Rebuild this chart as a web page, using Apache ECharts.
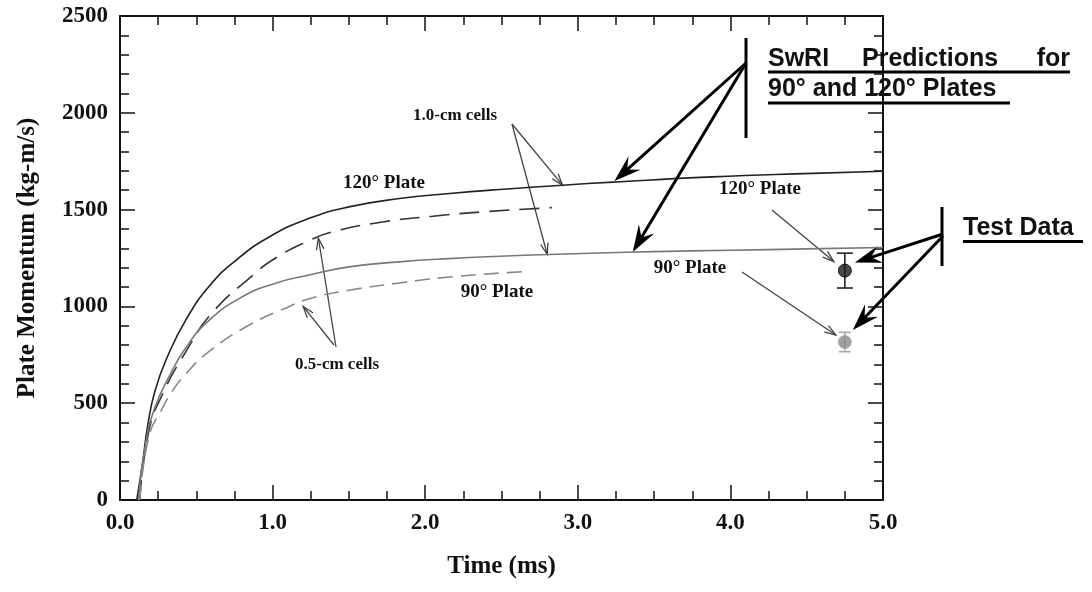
<!DOCTYPE html>
<html>
<head>
<meta charset="utf-8">
<script src="https://cdn.jsdelivr.net/npm/echarts@6/dist/echarts.min.js"></script>
<style>
  html, body { margin: 0; padding: 0; background: #fff; }
  #chart { width: 1092px; height: 592px; }
</style>
</head>
<body>
<div id="chart"></div>
<script>
// 120 deg plate, 1.0-cm cells (solid)
const time120Coarse = [0.11, 0.15, 0.18, 0.23, 0.32, 0.43, 0.58, 0.76, 0.98, 1.24, 1.5, 1.83, 2.16, 2.49, 2.9, 3.23, 3.88, 4.54, 5.0];
const mom120Coarse  = [0, 204, 376, 566, 757, 928, 1100, 1238, 1360, 1455, 1514, 1557, 1583, 1604, 1626, 1642, 1669, 1687, 1698];
// 120 deg plate, 0.5-cm cells (dashed)
const time120Fine = [0.13, 0.19, 0.28, 0.43, 0.6, 0.87, 1.02, 1.24, 1.39, 1.72, 2.05, 2.37, 2.83];
const mom120Fine  = [0, 359, 549, 764, 963, 1161, 1250, 1340, 1385, 1436, 1466, 1488, 1510];
// 90 deg plate, 1.0-cm cells (solid)
const time90Coarse = [0.12, 0.17, 0.23, 0.32, 0.43, 0.58, 0.8, 1.02, 1.24, 1.5, 1.83, 2.16, 2.49, 2.81, 3.14, 3.5, 4.0, 4.5, 5.0];
const mom90Coarse  = [0, 300, 480, 635, 785, 925, 1049, 1120, 1162, 1204, 1230, 1247, 1259, 1268, 1276, 1283, 1290, 1297, 1304];
// 90 deg plate, 0.5-cm cells (dashed)
const time90Fine = [0.13, 0.19, 0.275, 0.34, 0.43, 0.58, 0.85, 1.11, 1.24, 1.5, 1.83, 2.16, 2.65];
const mom90Fine  = [0, 330, 470, 560, 650, 765, 905, 1000, 1040, 1083, 1121, 1152, 1180];
// test data: 120 deg, 90 deg
const testTime  = [4.75, 4.75];
const testMom   = [1185, 816];
const testError = [90, 50];

const zip = (xs, ys) => xs.map((x, i) => [x, ys[i]]);

const SERIF = '"Liberation Serif", "Times New Roman", serif';
const SANS = '"Liberation Sans", Arial, sans-serif';

let chart = echarts.init(document.getElementById('chart'));

function axisX(pos, showLabel) {
  return {
    type: 'value', min: 0, max: 5, interval: 1, position: pos,
    axisLine: { show: true, onZero: false, lineStyle: { color: '#111', width: 2 } },
    axisTick: { show: true, inside: true, length: 15, lineStyle: { color: '#111', width: 1.5 } },
    minorTick: { show: true, splitNumber: 4, length: 9, lineStyle: { color: '#111', width: 1.5 } },
    splitLine: { show: false },
    axisLabel: {
      show: showLabel, margin: 12, color: '#111',
      fontFamily: SERIF, fontWeight: 'bold', fontSize: 23,
      formatter: v => v.toFixed(1)
    },
    name: showLabel ? 'Time (ms)' : '',
    nameLocation: 'middle', nameGap: 54,
    nameTextStyle: { fontFamily: SERIF, fontWeight: 'bold', fontSize: 25, color: '#111' }
  };
}
function axisY(pos, showLabel) {
  return {
    type: 'value', min: 0, max: 2500, interval: 500, position: pos,
    axisLine: { show: true, onZero: false, lineStyle: { color: '#111', width: 2 } },
    axisTick: { show: true, inside: true, length: 15, lineStyle: { color: '#111', width: 1.5 } },
    minorTick: { show: true, splitNumber: 5, length: 9, lineStyle: { color: '#111', width: 1.5 } },
    splitLine: { show: false },
    axisLabel: {
      show: showLabel, margin: 12, color: '#111',
      fontFamily: SERIF, fontWeight: 'bold', fontSize: 23,
      formatter: v => String(v)
    },
    name: showLabel ? 'Plate Momentum (kg-m/s)' : '',
    nameLocation: 'middle', nameGap: 80,
    nameTextStyle: { fontFamily: SERIF, fontWeight: 'bold', fontSize: 25, color: '#111' }
  };
}

function curve(xs, ys, color, type) {
  return {
    type: 'line', data: zip(xs, ys), showSymbol: false, smooth: true,
    xAxisIndex: 0, yAxisIndex: 0,
    lineStyle: { color: color, width: 1.6, type: type }
  };
}

let option = {
  animation: false,
  backgroundColor: '#fff',
  grid: { left: 120, right: 209, top: 16, bottom: 92 },
  xAxis: [axisX('bottom', true), axisX('top', false)],
  yAxis: [axisY('left', true), axisY('right', false)],
  series: [
    curve(time120Coarse, mom120Coarse, '#222', 'solid'),
    curve(time120Fine, mom120Fine, '#333', [20, 10]),
    curve(time90Coarse, mom90Coarse, '#777', 'solid'),
    curve(time90Fine, mom90Fine, '#888', [15, 8]),
    {
      type: 'custom',
      xAxisIndex: 0, yAxisIndex: 0,
      data: testTime.map((t, i) => [t, testMom[i], testError[i]]),
      renderItem(params, api) {
        const x = api.value(0), y = api.value(1), e = api.value(2);
        const top = api.coord([x, y + e]);
        const bot = api.coord([x, y - e]);
        const c = params.dataIndex === 0 ? '#222' : '#aaa';
        const w = params.dataIndex === 0 ? 8 : 6;
        const st = { stroke: c, lineWidth: 1.6 };
        return {
          type: 'group',
          children: [
            { type: 'line', shape: { x1: top[0], y1: top[1], x2: bot[0], y2: bot[1] }, style: st },
            { type: 'line', shape: { x1: top[0] - w, y1: top[1], x2: top[0] + w, y2: top[1] }, style: st },
            { type: 'line', shape: { x1: bot[0] - w, y1: bot[1], x2: bot[0] + w, y2: bot[1] }, style: st }
          ]
        };
      },
      z: 3
    },
    {
      type: 'scatter',
      xAxisIndex: 0, yAxisIndex: 0,
      symbolSize: 13,
      data: [
        { value: [testTime[0], testMom[0]], itemStyle: { color: '#1a1a1a', borderColor: '#000', borderWidth: 1 } },
        { value: [testTime[1], testMom[1]], itemStyle: { color: '#8a8a8a', borderColor: '#aaa', borderWidth: 1 } }
      ],
      z: 4
    }
  ]
};
chart.setOption(option);

// annotations: arrow tips come from the data scale
const px = p => chart.convertToPixel({ seriesIndex: 0 }, p);

function thinArrow(a, b) {
  const ang = Math.atan2(b[1] - a[1], b[0] - a[0]);
  const L = 12, w = 0.32;
  const p1 = [b[0] - L * Math.cos(ang - w), b[1] - L * Math.sin(ang - w)];
  const p2 = [b[0] - L * Math.cos(ang + w), b[1] - L * Math.sin(ang + w)];
  const st = { stroke: '#444', lineWidth: 1.3, fill: null };
  return [
    { type: 'line', shape: { x1: a[0], y1: a[1], x2: b[0], y2: b[1] }, style: st },
    { type: 'polyline', shape: { points: [p1, b, p2] }, style: st }
  ];
}
function boldArrow(a, b) {
  const ang = Math.atan2(b[1] - a[1], b[0] - a[0]);
  const ux = Math.cos(ang), uy = Math.sin(ang);
  const L = 27, W = 9, N = 17;
  const base = [b[0] - L * ux, b[1] - L * uy];
  const w1 = [base[0] - W * uy, base[1] + W * ux];
  const w2 = [base[0] + W * uy, base[1] - W * ux];
  const notch = [b[0] - N * ux, b[1] - N * uy];
  return [
    { type: 'line', shape: { x1: a[0], y1: a[1], x2: notch[0], y2: notch[1] }, style: { stroke: '#000', lineWidth: 3 } },
    { type: 'polygon', shape: { points: [b, w1, notch, w2] }, style: { fill: '#000' } }
  ];
}
function label(text, x, y, size, align, fam) {
  return {
    type: 'text',
    style: {
      text: text, x: x, y: y, align: align || 'center', verticalAlign: 'middle',
      font: 'bold ' + size + 'px ' + (fam || SERIF), fill: '#111'
    }
  };
}
function rule(x1, y1, x2, y2, w) {
  return { type: 'line', shape: { x1: x1, y1: y1, x2: x2, y2: y2 }, style: { stroke: '#000', lineWidth: w || 3 } };
}

const p120 = px([testTime[0], testMom[0]]);
const p90 = px([testTime[1], testMom[1]]);

let g = [];
// in-plot labels
g.push(label('1.0-cm cells', 455, 116, 17));
g.push(label('120° Plate', 384, 183, 19));
g.push(label('90° Plate', 497, 292, 19));
g.push(label('0.5-cm cells', 337, 365, 17));
g.push(label('120° Plate', 760, 189, 19));
g.push(label('90° Plate', 690, 268, 19));
g = g.concat(thinArrow([512, 124], px([2.9, 1626])));
g = g.concat(thinArrow([512, 124], px([2.8, 1268])));
g = g.concat(thinArrow([336, 347], px([1.3, 1352])));
g = g.concat(thinArrow([334, 345], px([1.2, 1000])));
g = g.concat(thinArrow([772, 210], [p120[0] - 11, p120[1] - 9]));
g = g.concat(thinArrow([742, 272], [p90[0] - 9, p90[1] - 7]));

// SwRI callout
g.push(rule(746, 38, 746, 138));
g = g.concat(boldArrow([746, 63], px([3.24, 1648])));
g = g.concat(boldArrow([746, 63], px([3.36, 1281])));
g.push(label('SwRI', 768, 59, 25, 'left', SANS));
g.push(label('Predictions', 862, 59, 25, 'left', SANS));
g.push(label('for', 1070, 59, 25, 'right', SANS));
g.push(rule(768, 72, 1070, 72));
g.push(label('90° and 120° Plates', 768, 89, 25, 'left', SANS));
g.push(rule(768, 103, 1010, 103));

// Test data callout
g.push(rule(942, 207, 942, 266));
g = g.concat(boldArrow([943, 234], [p120[0] + 10, p120[1] - 8]));
g = g.concat(boldArrow([943, 236], [p90[0] + 8, p90[1] - 12]));
g.push(label('Test Data', 963, 228, 25, 'left', SANS));
g.push(rule(963, 241.5, 1083, 241.5));

chart.setOption({ graphic: g });
</script>
</body>
</html>
